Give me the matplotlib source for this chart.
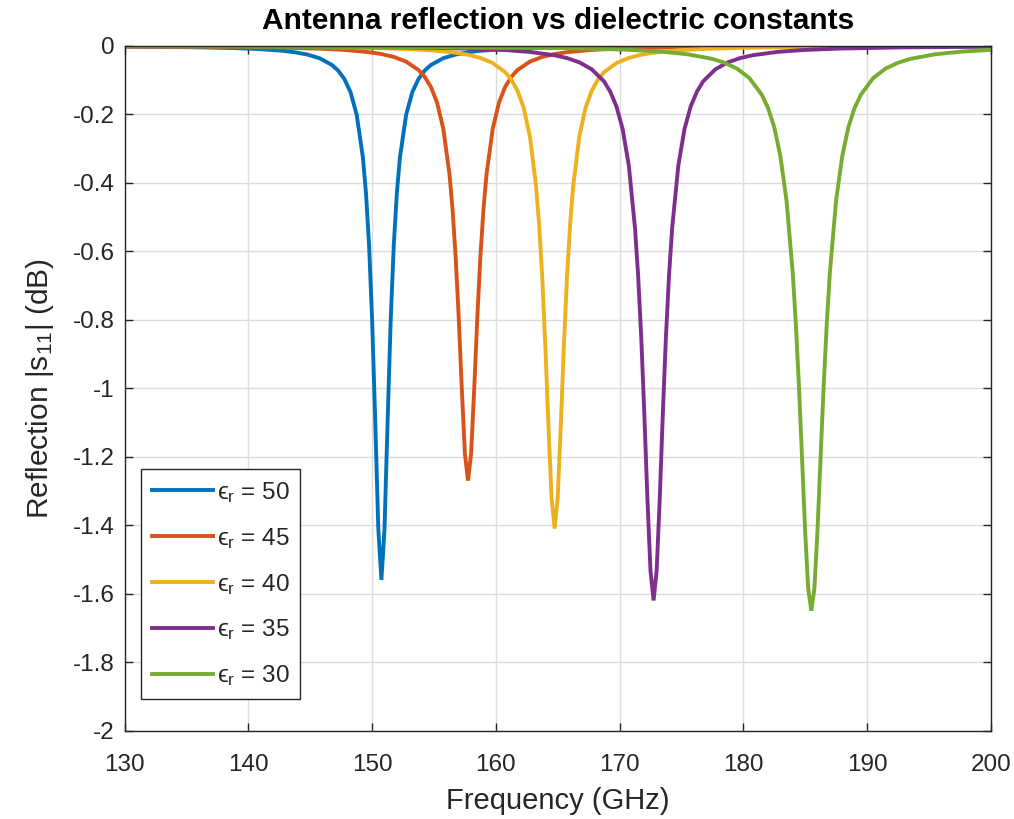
import matplotlib
matplotlib.use("Agg")
import matplotlib.pyplot as plt
from matplotlib.ticker import FuncFormatter

plt.rcParams['font.family'] = ['Liberation Sans', 'DejaVu Sans']
plt.rcParams['mathtext.fontset'] = 'custom'
plt.rcParams['mathtext.rm'] = 'Liberation Sans'
plt.rcParams['mathtext.it'] = 'Liberation Sans:italic'
plt.rcParams['mathtext.default'] = 'regular'
plt.rcParams['mathtext.fallback'] = 'stixsans'
plt.rcParams['axes.unicode_minus'] = False

# |S11| sweeps (GHz, dB) for each dielectric constant
eps_r = [50, 45, 40, 35, 30]

freq_50 = [130, 135.75, 138.75, 140.75, 142.75, 143.75, 144.75, 145.75, 146.75, 147.25,
           147.75, 148.25, 148.75, 149.25, 149.5, 149.75, 150.0, 150.25, 150.5, 150.75,
           151.0, 151.25, 151.5, 151.75, 152.0, 152.25, 152.75, 153.25, 153.75, 154.25,
           154.75, 155.75, 156.75, 157.75, 158.75, 160.75, 162.75, 165.75, 170.75, 200]
s11_50 = [-0.0021, -0.0041, -0.0064, -0.0092, -0.0143, -0.0187, -0.0253, -0.0361, -0.0558, -0.072,
          -0.0964, -0.135, -0.201, -0.325, -0.429, -0.581, -0.801, -1.097, -1.411, -1.560,
          -1.411, -1.097, -0.801, -0.581, -0.429, -0.325, -0.201, -0.135, -0.0964, -0.072,
          -0.0558, -0.0361, -0.0253, -0.0187, -0.0143, -0.0092, -0.0064, -0.0041, -0.0023, -0.0004]

freq_45 = [130, 137.75, 142.75, 145.75, 147.75, 149.75, 150.75, 151.75, 152.75, 153.75,
           154.25, 154.75, 155.25, 155.75, 156.25, 156.5, 156.75, 157.0, 157.25, 157.5,
           157.75, 158.0, 158.25, 158.5, 158.75, 159.0, 159.25, 159.75, 160.25, 160.75,
           161.25, 161.75, 162.75, 163.75, 164.75, 165.75, 167.75, 169.75, 172.75, 177.75, 200]
s11_45 = [-0.0016, -0.0030, -0.0053, -0.0082, -0.0118, -0.0184, -0.0239, -0.0323, -0.0461, -0.0705,
          -0.0906, -0.120, -0.166, -0.242, -0.374, -0.477, -0.616, -0.795, -1.003, -1.191,
          -1.270, -1.191, -1.003, -0.795, -0.616, -0.477, -0.374, -0.242, -0.166, -0.120,
          -0.0906, -0.0705, -0.0461, -0.0323, -0.0239, -0.0184, -0.0118, -0.0082, -0.0053, -0.0030, -0.0007]

freq_40 = [130, 144.75, 149.75, 152.75, 154.75, 156.75, 157.75, 158.75, 159.75, 160.75,
           161.25, 161.75, 162.25, 162.75, 163.25, 163.5, 163.75, 164.0, 164.25, 164.5,
           164.75, 165.0, 165.25, 165.5, 165.75, 166.0, 166.25, 166.75, 167.25, 167.75,
           168.25, 168.75, 169.75, 170.75, 171.75, 172.75, 174.75, 176.75, 179.75, 184.75, 200]
s11_40 = [-0.0011, -0.0032, -0.0058, -0.0090, -0.0129, -0.0200, -0.0260, -0.0352, -0.0501, -0.0768,
          -0.0987, -0.131, -0.181, -0.264, -0.410, -0.523, -0.676, -0.876, -1.109, -1.320,
          -1.410, -1.320, -1.109, -0.876, -0.676, -0.523, -0.410, -0.264, -0.181, -0.131,
          -0.0987, -0.0768, -0.0501, -0.0352, -0.0260, -0.0200, -0.0129, -0.0090, -0.0058, -0.0032, -0.0010]

freq_35 = [130, 152.75, 157.75, 160.75, 162.75, 164.75, 165.75, 166.75, 167.75, 168.75,
           169.25, 169.75, 170.25, 170.75, 171.25, 171.5, 171.75, 172.0, 172.25, 172.5,
           172.75, 173.0, 173.25, 173.5, 173.75, 174.0, 174.25, 174.75, 175.25, 175.75,
           176.25, 176.75, 177.75, 178.75, 179.75, 180.75, 182.75, 184.75, 187.75, 192.75, 200]
s11_35 = [-0.0010, -0.0045, -0.0079, -0.0123, -0.0177, -0.0274, -0.0357, -0.0481, -0.0684, -0.104,
          -0.134, -0.177, -0.243, -0.350, -0.533, -0.670, -0.849, -1.073, -1.321, -1.533,
          -1.620, -1.533, -1.321, -1.073, -0.849, -0.670, -0.533, -0.350, -0.243, -0.177,
          -0.134, -0.104, -0.0684, -0.0481, -0.0357, -0.0274, -0.0177, -0.0123, -0.0079, -0.0045, -0.0024]

freq_30 = [130, 165.5, 170.5, 173.5, 175.5, 177.5, 178.5, 179.5, 180.5, 181.5,
           182.0, 182.5, 183.0, 183.5, 184.0, 184.25, 184.5, 184.75, 185.0, 185.25,
           185.5, 185.75, 186.0, 186.25, 186.5, 186.75, 187.0, 187.5, 188.0, 188.5,
           189.0, 189.5, 190.5, 191.5, 192.5, 193.5, 195.5, 197.5, 200]
s11_30 = [-0.0008, -0.0062, -0.0110, -0.0172, -0.0246, -0.0381, -0.0494, -0.0665, -0.0942, -0.143,
          -0.181, -0.237, -0.322, -0.453, -0.663, -0.812, -0.993, -1.203, -1.416, -1.585,
          -1.650, -1.585, -1.416, -1.203, -0.993, -0.812, -0.663, -0.453, -0.322, -0.237,
          -0.181, -0.143, -0.0942, -0.0665, -0.0494, -0.0381, -0.0246, -0.0172, -0.0118]

freqs = [freq_50, freq_45, freq_40, freq_35, freq_30]
s11s = [s11_50, s11_45, s11_40, s11_35, s11_30]
colors = ['#0072BD', '#D95319', '#EDB120', '#7E2F8E', '#77AC30']

xticks = [130, 140, 150, 160, 170, 180, 190, 200]
yticks = [0, -0.2, -0.4, -0.6, -0.8, -1, -1.2, -1.4, -1.6, -1.8, -2]

fig = plt.figure(figsize=(10.14, 8.19), dpi=100)
ax = fig.add_axes([0.123, 0.108, 0.854, 0.836])

for f, s, er, c in zip(freqs, s11s, eps_r, colors):
    ax.plot(f, s, color=c, lw=2.8, label='$\u03f5_{r}$ = ' + str(er), solid_joinstyle='miter')

ax.set_xlim(130, 200)
ax.set_ylim(-2, 0)
ax.set_xticks(xticks)
ax.set_yticks(yticks)
ax.yaxis.set_major_formatter(FuncFormatter(lambda v, p: '%g' % v))

axcol = '#262626'
for sp in ax.spines.values():
    sp.set_color(axcol)
    sp.set_linewidth(1.0)
ax.tick_params(direction='in', length=6, width=1, color=axcol, labelcolor=axcol,
               labelsize=17.5, top=True, right=True)
ax.tick_params(axis='x', pad=17)
ax.tick_params(axis='y', pad=7)
ax.grid(True, color='#dcdcdc', lw=1.0)
ax.set_axisbelow(True)

ax.set_xlabel('Frequency (GHz)', fontsize=21, color=axcol, labelpad=8)
ax.set_ylabel('Reflection |s$_{11}$| (dB)', fontsize=21.5, color=axcol, labelpad=12)
ax.set_title('Antenna reflection vs dielectric constants', fontsize=21.5, fontweight='bold',
             color='black', pad=12)

leg = ax.legend(loc='lower left', bbox_to_anchor=(0.019, 0.046), borderaxespad=0,
                fontsize=17.5, handlelength=2.5, handletextpad=0.15, labelspacing=0.86,
                borderpad=0.45, fancybox=False, framealpha=1, edgecolor=axcol)
leg.get_frame().set_linewidth(1.0)
for t in leg.get_texts():
    t.set_color(axcol)

fig.savefig('out.png', dpi=100)
